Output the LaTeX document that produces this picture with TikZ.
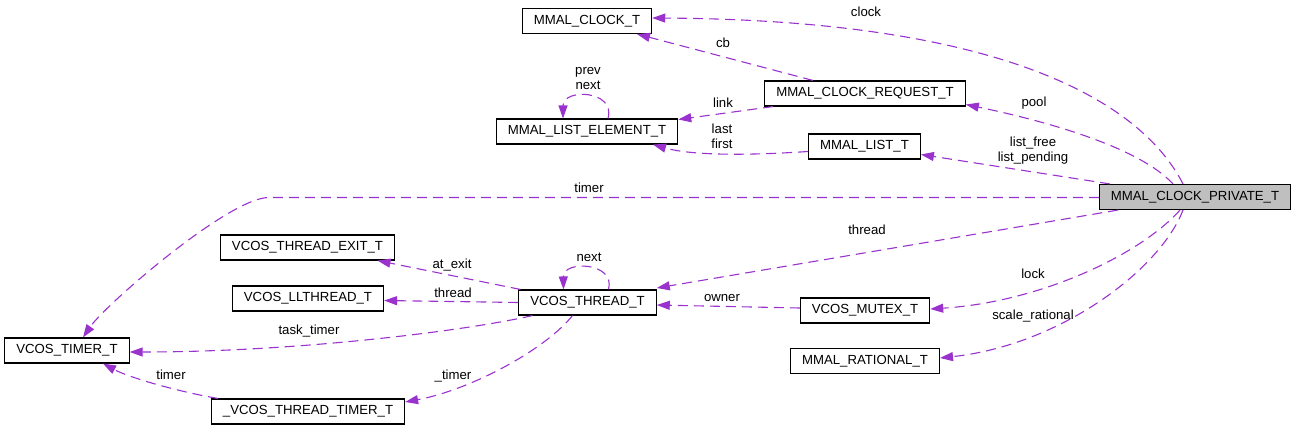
\documentclass[tikz,border=0pt]{standalone}
\usepackage{fontspec}
\setmainfont{Liberation Sans}
\usepackage{tikz}
\usetikzlibrary{arrows.meta,calc}
\definecolor{edgepurple}{RGB}{154,50,205}
\definecolor{boxgray}{RGB}{191,191,191}

\begin{document}
\begin{tikzpicture}[
  x=1pt, y=-1pt,
  font=\fontsize{13.2}{15}\selectfont,
  box/.style={rectangle, draw=black, line width=1.1pt, minimum height=25pt,
              inner xsep=11.5pt, inner ysep=0pt, align=center},
  rel/.style={-{Triangle[length=13pt,width=9pt]}, draw=edgepurple,
              line width=1.1pt, dash pattern=on 10pt off 6pt},
  lbl/.style={inner sep=0pt, align=center}
]
  \useasboundingbox (0,0) rectangle (1297,431);

  % structs
  \node[box] (clk)   at (587,21)    {MMAL\_CLOCK\_T};
  \node[box] (req)   at (865,93.5)  {MMAL\_CLOCK\_REQUEST\_T};
  \node[box] (elem)  at (587,131.5) {MMAL\_LIST\_ELEMENT\_T};
  \node[box] (lst)   at (864.5,146.5) {MMAL\_LIST\_T};
  \node[box, fill=boxgray] (priv) at (1195,197) {MMAL\_CLOCK\_PRIVATE\_T};
  \node[box] (texit) at (307.5,247.5) {VCOS\_THREAD\_EXIT\_T};
  \node[box] (llth)  at (308,298.5)  {VCOS\_LLTHREAD\_T};
  \node[box] (thr)   at (587.5,302.5) {VCOS\_THREAD\_T};
  \node[box] (mtx)   at (865,310.5)  {VCOS\_MUTEX\_T};
  \node[box] (tmr)   at (67,350.5)   {VCOS\_TIMER\_T};
  \node[box] (rat)   at (865,361)    {MMAL\_RATIONAL\_T};
  \node[box] (ttmr)  at (308,411.5)  {\_VCOS\_THREAD\_TIMER\_T};

  % members of the clock
  \draw[rel] ($(priv.north)+(-12,0)$) .. controls (1140,100) and (1000,20) .. ($(clk.east)+(0,-3)$)
    node[lbl] (lclock) at (866,12) {clock};
  \draw[rel] ($(req.north)+(-52,0)$) -- ($(clk.south)+(50,0)$)
    node[lbl] (lcb) at (723,43) {cb};
  \draw[rel] ($(priv.north)+(-22,0)$) .. controls (1140,148) and (1050,122) .. ($(req.east)+(0,11)$)
    node[lbl] (lpool) at (1034,103) {pool};
  \draw[rel] ($(req.south)+(-92,0)$) -- ($(elem.east)+(0,-12)$)
    node[lbl] (llink) at (723,103) {link};
  \draw[rel] ($(elem.north)+(21,0)$) .. controls (616,90) and (563,88) .. ($(elem.north)+(-24,0)$)
    node[lbl] (lprev) at (588,79) {prev\\next};
  \draw[rel] ($(lst.west)+(0,5)$) .. controls (740,156) and (690,155) .. ($(elem.south)+(66,0)$)
    node[lbl] (lfirst) at (722,136) {last\\first};
  \draw[rel] ($(priv.north)+(-85,0)$) -- ($(lst.east)+(0,8)$)
    node[lbl] (llist) at (1033,151) {list\_free\\list\_pending};
  \draw[rel] ($(priv.west)+(0,0.5)$) -- ++(-830,0) .. controls +(-40,0) and (105,305) .. ($(tmr.north)+(16,0)$)
    node[lbl] (ltimer) at (589,188) {timer};
  \draw[rel] ($(priv.south)+(-77,0)$) -- ($(thr.east)+(0,-14.5)$)
    node[lbl] (lthread) at (867,230) {thread};
  \draw[rel] ($(priv.south)+(-15,0)$) .. controls (1140,255) and (1040,302) .. ($(mtx.east)+(0,-1.5)$)
    node[lbl] (llock) at (1033,274) {lock};
  \draw[rel] ($(priv.south)+(-12,0)$) .. controls (1160,270) and (1060,345) .. ($(rat.east)+(0,-3)$)
    node[lbl] (lscale) at (1033,316) {scale\_rational};

  % thread and its parts
  \draw[rel] ($(thr.north)+(-67,0)$) -- ($(texit.south)+(70,0)$)
    node[lbl] (lexit) at (452,265) {at\_exit};
  \draw[rel] (thr.west) -- ($(llth.east)+(0,2)$)
    node[lbl] (lllth) at (453,293) {thread};
  \draw[rel] ($(thr.north)+(21,0)$) .. controls (616,262) and (563,260) .. ($(thr.north)+(-24,0)$)
    node[lbl] (lnext) at (589,257) {next};
  \draw[rel] ($(thr.south)+(-55,0)$) .. controls (470,330) and (300,352) .. ($(tmr.east)+(0,1.5)$)
    node[lbl] (ltask) at (309,331) {task\_timer};
  \draw[rel] ($(thr.south)+(-15,0)$) .. controls (545,350) and (470,390) .. ($(ttmr.east)+(0,-9.5)$)
    node[lbl] (lttmr) at (453,376) {\_timer};
  \draw[rel] ($(ttmr.north)+(-90,0)$) .. controls (180,392) and (130,378) .. ($(tmr.south)+(36,0)$)
    node[lbl] (lttimer) at (171,375) {timer};
  \draw[rel] ($(mtx.west)+(0,-2.5)$) -- ($(thr.east)+(0,2.5)$)
    node[lbl] (lowner) at (722,298) {owner};
\end{tikzpicture}
\end{document}
